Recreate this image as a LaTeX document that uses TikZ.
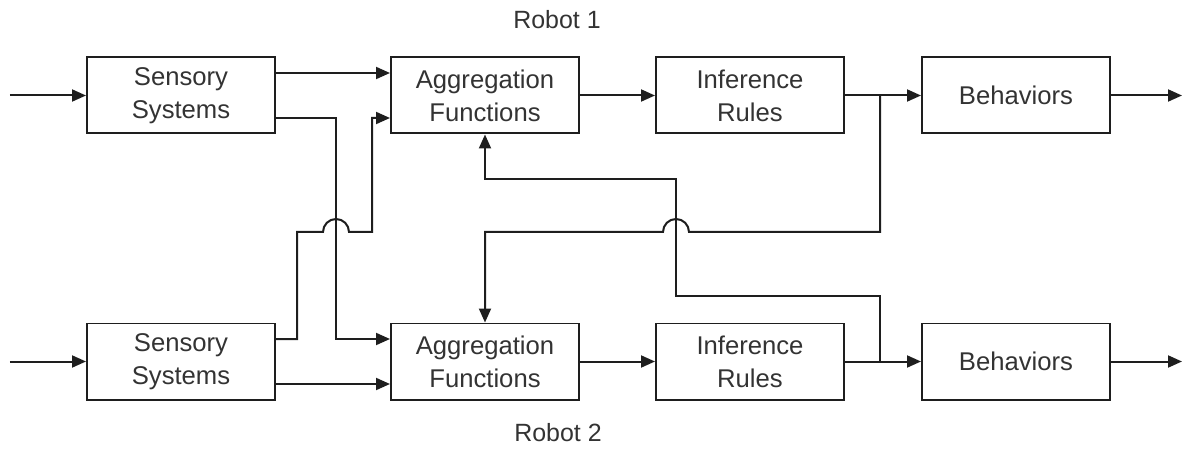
\documentclass[tikz,border=0pt]{standalone}
\usepackage{fontspec}
\setmainfont{Liberation Sans}
\usepackage{tikz}
\usetikzlibrary{arrows.meta,calc,positioning}
\definecolor{wireblack}{HTML}{1E1E1E}
\definecolor{labelgray}{HTML}{333333}
\tikzset{
  block/.style={
    draw=wireblack,
    line width=0.04cm,
    text=labelgray,
    align=center,
    minimum width=3.76cm,
    minimum height=1.52cm,
    inner sep=0pt,
    font=\fontsize{14.6}{18.6}\selectfont
  },
  arrow/.style={-{Triangle[length=0.28cm,width=0.24cm]}, line width=0.04cm, draw=wireblack},
  robotlabel/.style={text=labelgray, font=\fontsize{14.2}{17.6}\selectfont}
}

\begin{document}
\begin{tikzpicture}[node distance=3.76cm and 1.5cm]
  \useasboundingbox (0,0) rectangle (23.8,-8.98);
  % robot 1 chain
  \node[block] (sens1) at (3.62,-1.91) {Sensory\\Systems};
  \node[block, right=2.28cm of sens1] (agg1) {Aggregation\\Functions};
  \node[block, right=of agg1] (inf1) {Inference\\Rules};
  \node[block, right=1.52cm of inf1] (beh1) {Behaviors};
  % robot 2 chain
  \node[block, below=of sens1] (sens2) {Sensory\\Systems};
  \node[block, below=of agg1] (agg2) {Aggregation\\Functions};
  \node[block, below=of inf1] (inf2) {Inference\\Rules};
  \node[block, below=of beh1] (beh2) {Behaviors};
  \node[robotlabel] (robot1) at (11.14,-0.4) {Robot 1};
  \node[robotlabel] (robot2) at (11.16,-8.66) {Robot 2};
  % free ends and crossing points
  \coordinate (in1) at (0.2,-1.91);
  \coordinate (in2) at (in1 |- sens2);
  \coordinate (out1) at (23.64,-1.91);
  \coordinate (out2) at (out1 |- beh2);
  \coordinate (split1) at (17.6,-1.91);
  \coordinate (split2) at (split1 |- inf2);
  \coordinate (hopA) at (6.72,-4.64);
  \coordinate (hopB) at (13.52,-4.64);
  % straight flow
  \draw[arrow] (in1) -- (sens1);
  \draw[arrow] (in2) -- (sens2);
  \draw[arrow] ([yshift=0.45cm]sens1.east) -- ([yshift=0.45cm]agg1.west);
  \draw[arrow] ([yshift=-0.45cm]sens2.east) -- ([yshift=-0.45cm]agg2.west);
  \draw[arrow] (agg1) -- (inf1);
  \draw[arrow] (agg2) -- (inf2);
  \draw[arrow] (inf1) -- (beh1);
  \draw[arrow] (inf2) -- (beh2);
  \draw[arrow] (beh1) -- (out1);
  \draw[arrow] (beh2) -- (out2);
  % sensory cross links
  \draw[arrow] ([yshift=-0.45cm]sens1.east) -| (hopA) |- ([yshift=0.45cm]agg2.west);
  \draw[arrow] ([yshift=0.45cm]sens2.east) -- ++(0.42cm,0) |- ($(hopA)-(0.26,0)$)
    arc[start angle=180, end angle=0, radius=0.26cm]
    -| ([xshift=-0.36cm,yshift=-0.45cm]agg1.west) -- ([yshift=-0.45cm]agg1.west);
  % inference feedback
  \draw[arrow] (split1) |- ($(hopB)+(0.26,0)$)
    arc[start angle=0, end angle=180, radius=0.26cm] -| (agg2.north);
  \draw[arrow] (split2) |- ($(hopB)+(0,-1.28)$) -- ($(hopB)+(0,1.06)$) -| (agg1.south);
\end{tikzpicture}
\end{document}
